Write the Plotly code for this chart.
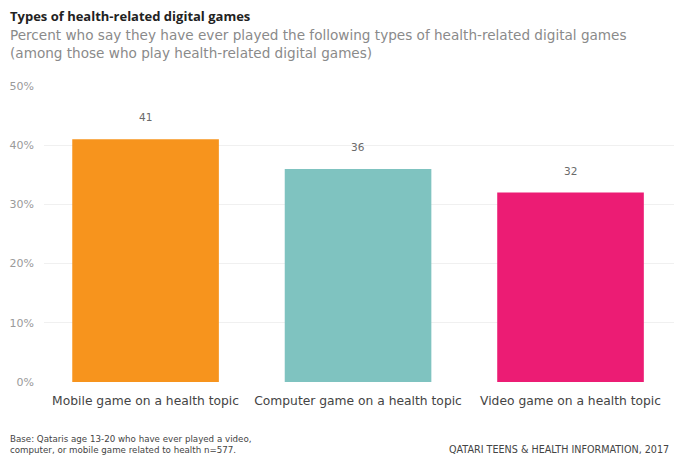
import plotly.graph_objects as go

categories = ["Mobile game on a health topic", "Computer game on a health topic", "Video game on a health topic"]
values = [41, 36, 32]
colors = ["#F7941D", "#7FC3C0", "#EC1C74"]
tick_vals = [0, 10, 20, 30, 40, 50]
tick_text = ["0%", "10%", "20%", "30%", "40%", "50%"]

FONT = "DejaVu Sans"
TITLE_FONT = "Open Sans"
W, H = 674, 460
ML, MR, MT, MB = 44, 0, 86, 78
PW, PH = W - ML - MR, H - MT - MB


def px(x):
    return (x - ML) / PW


def py(y):
    return (H - MB - y) / PH


fig = go.Figure()
fig.add_trace(go.Bar(
    x=categories, y=values,
    marker=dict(color=colors, line=dict(width=0)),
    width=0.69,
    hoverinfo="x+y",
))

# value labels above each bar
for c, v in zip(categories, values):
    fig.add_annotation(x=c, y=v, text=str(v), showarrow=False, yshift=22,
                       yanchor="middle", font=dict(family=FONT, size=10.5, color="#6a6a6a"))

fig.update_layout(
    width=W, height=H,
    margin=dict(l=ML, r=MR, t=MT, b=MB),
    paper_bgcolor="white", plot_bgcolor="white",
    showlegend=False,
    font=dict(family=FONT, color="#444"),
)
fig.update_xaxes(
    range=[-0.478, 2.487], showgrid=False, showline=False, zeroline=False,
    tickfont=dict(family=FONT, size=12.3, color="#444"), ticks="", ticklabelstandoff=10,
)
fig.update_yaxes(
    range=[0, 50], tickvals=tick_vals, ticktext=tick_text,
    showgrid=True, gridcolor="#f0f0f0", gridwidth=1, zeroline=False, showline=False,
    tickfont=dict(family=FONT, size=11, color="#9a9a9a"), ticks="", ticklabelstandoff=9,
)

# Heading and footer text
fig.add_annotation(text="<b>Types of health-related digital games</b>", xref="paper", yref="paper",
                   x=px(8), y=py(16), xanchor="left", yanchor="middle", showarrow=False,
                   font=dict(family=TITLE_FONT, size=13, color="#222"))
fig.add_annotation(text="Percent who say they have ever played the following types of health-related digital games<br>(among those who play health-related digital games)",
                   xref="paper", yref="paper", x=px(8), y=py(44), showarrow=False, align="left",
                   xanchor="left", yanchor="middle", font=dict(family=FONT, size=13.6, color="#8a8a8a"))
fig.add_annotation(text="Base: Qataris age 13-20 who have ever played a video,<br>computer, or mobile game related to health n=577.",
                   xref="paper", yref="paper", x=px(8), y=py(444.5), showarrow=False, align="left",
                   xanchor="left", yanchor="middle", font=dict(family=FONT, size=8.7, color="#444"))
fig.add_annotation(text="QATARI TEENS &amp; HEALTH INFORMATION, 2017",
                   xref="paper", yref="paper", x=px(671), y=py(449), showarrow=False, align="right",
                   xanchor="right", yanchor="middle", font=dict(family=FONT, size=9.6, color="#444"))

fig.write_html("out.html")
